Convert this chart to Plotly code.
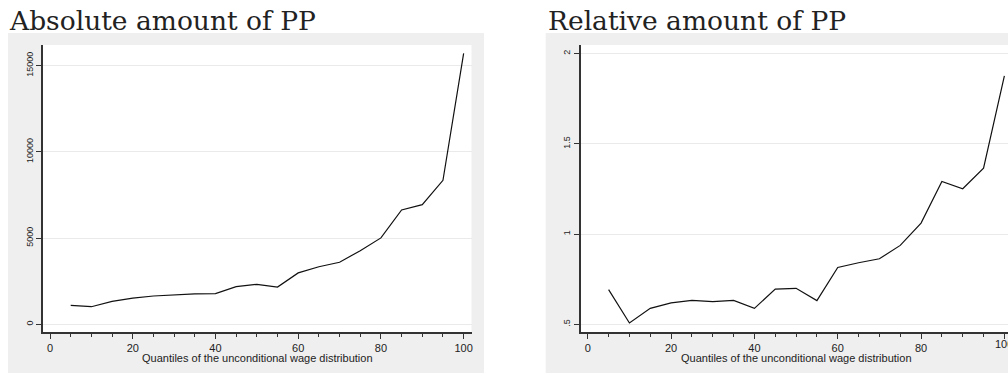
import plotly.graph_objects as go

W, H = 1008, 374

quantiles = [5, 10, 15, 20, 25, 30, 35, 40, 45, 50, 55, 60, 65, 70, 75, 80, 85, 90, 95, 100]
absolute_pp = [1100, 1020, 1330, 1520, 1640, 1720, 1760, 1780, 2180, 2320, 2160, 2980,
               3340, 3600, 4270, 5010, 6630, 6940, 8350, 15720]
relative_pp = [0.692, 0.507, 0.588, 0.618, 0.632, 0.625, 0.632, 0.588, 0.695, 0.699, 0.631,
               0.815, 0.841, 0.863, 0.937, 1.061, 1.291, 1.251, 1.365, 1.877]

titles = ["Absolute amount of PP", "Relative amount of PP"]
xtitle = "Quantiles of the unconditional wage distribution"
x_ticks = [0, 20, 40, 60, 80, 100]
abs_ticks = [0, 5000, 10000, 15000]
abs_labels = ["0", "5000", "10000", "15000"]
rel_ticks = [0.5, 1, 1.5, 2]
rel_labels = [".5", "1", "1.5", "2"]

def px(x):
    return x / W

def py(y):
    return 1 - y / H

def frame_path(ox0, ox1, oy0, oy1, ix0, ix1, iy0, iy1):
    # outer rectangle minus inner rectangle (pixel coords -> paper coords)
    def pt(x, y):
        return f"{px(x):.5f},{py(y):.5f}"
    outer = f"M{pt(ox0, oy0)} L{pt(ox1, oy0)} L{pt(ox1, oy1)} L{pt(ox0, oy1)} Z"
    inner = f"M{pt(ix0, iy0)} L{pt(ix1, iy0)} L{pt(ix1, iy1)} L{pt(ix0, iy1)} Z"
    return outer + " " + inner

fig = go.Figure()
fig.add_trace(go.Scatter(x=quantiles, y=absolute_pp, mode="lines",
                         line=dict(color="#111111", width=1.2), xaxis="x", yaxis="y",
                         showlegend=False, hoverinfo="skip"))
fig.add_trace(go.Scatter(x=quantiles, y=relative_pp, mode="lines",
                         line=dict(color="#111111", width=1.2), xaxis="x2", yaxis="y2",
                         showlegend=False, hoverinfo="skip"))

sans = "Liberation Sans, Arial, sans-serif"
tickfont_x = dict(family=sans, size=11, color="#222222")
tickfont_y = dict(family=sans, size=9, color="#222222")

common_x = dict(
    tickmode="array", tickvals=x_ticks, ticks="outside", ticklen=5, tickwidth=1,
    tickcolor="#333333", showline=True, linecolor="#333333", linewidth=1.5,
    showgrid=False, zeroline=False, tickfont=tickfont_x, automargin=False,
    minor=dict(dtick=5, tick0=0, ticks="outside", ticklen=3, tickwidth=1, tickcolor="#333333", showgrid=False),
    fixedrange=True,
)
common_y = dict(
    tickmode="array", ticks="outside", ticklen=5, tickwidth=1, tickcolor="#333333",
    showline=True, linecolor="#333333", linewidth=1.5, showgrid=True,
    gridcolor="#EAEAEA", gridwidth=1, zeroline=False, tickfont=tickfont_y,
    tickangle=-90, fixedrange=True, automargin=False,
)

fig.update_layout(
    width=W, height=H,
    margin=dict(l=0, r=0, t=0, b=0, autoexpand=False),
    paper_bgcolor="white", plot_bgcolor="white",
    xaxis=dict(domain=[px(43), px(471.5)], range=[-1.7, 101.9], anchor="y", **common_x),
    yaxis=dict(domain=[py(332), py(45)], range=[-447, 16200], anchor="x",
               tickvals=abs_ticks, ticktext=abs_labels, **common_y),
    xaxis2=dict(domain=[px(580.7), 1.0], range=[-1.7, 100.87], anchor="y2", **common_x),
    yaxis2=dict(domain=[py(332), py(45)], range=[0.457, 2.048], anchor="x2",
                tickvals=rel_ticks, ticktext=rel_labels, **common_y),
    shapes=[
        dict(type="path", xref="paper", yref="paper",
             path=frame_path(8, 484, 33, 373, 43, 471.5, 45, 332),
             fillcolor="#EFEFEF", fillrule="evenodd", line=dict(width=0), layer="below"),
        dict(type="path", xref="paper", yref="paper",
             path=frame_path(545.7, 1010, 33, 373, 580.7, 1010, 45, 332),
             fillcolor="#EFEFEF", fillrule="evenodd", line=dict(width=0), layer="below"),
    ],
    annotations=[
        dict(text=titles[0], xref="paper", yref="paper", x=px(7), y=py(20.5), xanchor="left",
             yanchor="middle", showarrow=False,
             font=dict(family="DejaVu Serif, Liberation Serif, serif", size=26.5, color="#222222")),
        dict(text=titles[1], xref="paper", yref="paper", x=px(546), y=py(20.5), xanchor="left",
             yanchor="middle", showarrow=False,
             font=dict(family="DejaVu Serif, Liberation Serif, serif", size=26.5, color="#222222")),
        dict(text=xtitle, xref="paper", yref="paper", x=px(257), y=py(358), xanchor="center",
             yanchor="middle", showarrow=False, font=dict(family=sans, size=11, color="#222222")),
        dict(text=xtitle, xref="paper", yref="paper", x=px(796), y=py(358), xanchor="center",
             yanchor="middle", showarrow=False, font=dict(family=sans, size=11, color="#222222")),
        # last tick label of the right panel, partly cut by the page edge as in the reference
        dict(text=str(x_ticks[-1]), xref="x2", yref="paper", x=x_ticks[-1], y=py(344),
             xanchor="center", yanchor="middle", showarrow=False, font=tickfont_x),
    ],
)

fig.write_html("out.html", config={"displayModeBar": False},
               post_script="document.body.style.margin='0';document.body.style.overflow='hidden';")
